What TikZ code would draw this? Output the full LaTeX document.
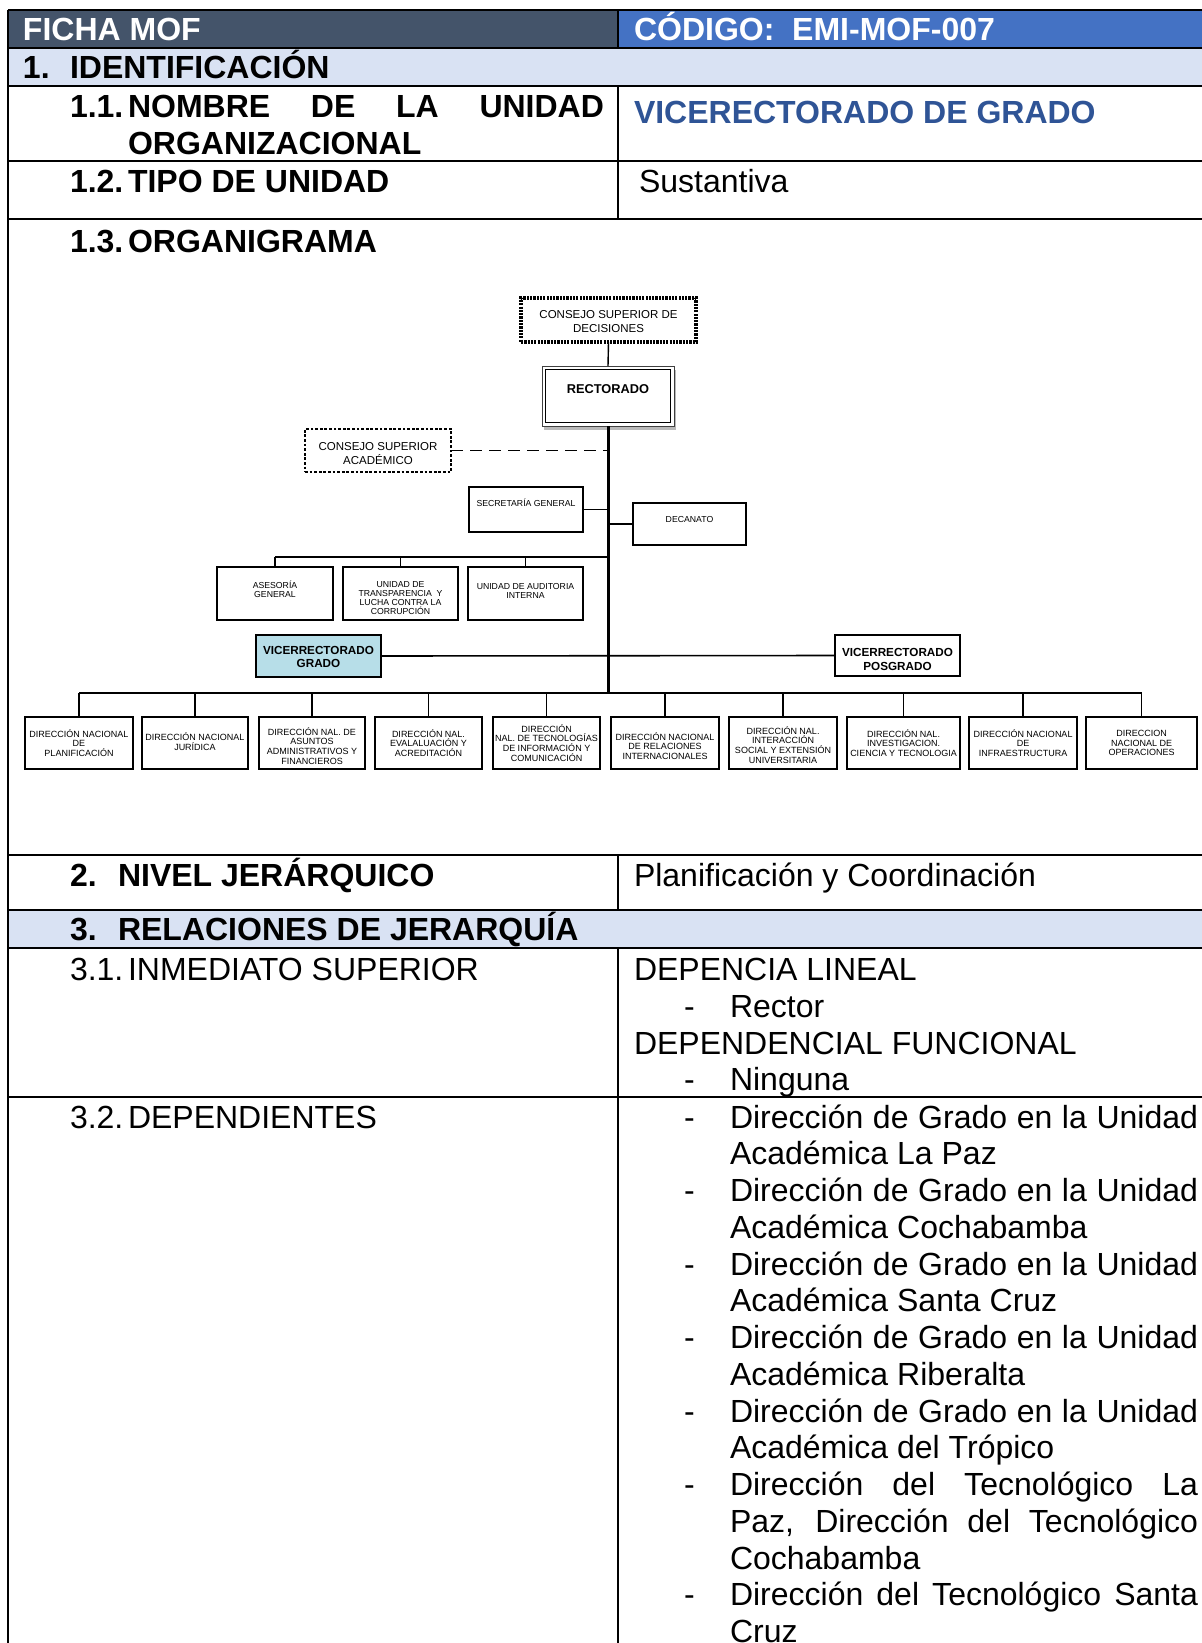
\documentclass[tikz,border=0pt]{standalone}
\usepackage{fontspec}
\setmainfont{Liberation Sans}
\usetikzlibrary{calc,shadows}
\definecolor{hdrdark}{HTML}{44546A}
\definecolor{hdrblue}{HTML}{4472C4}
\definecolor{bandblue}{HTML}{D9E2F3}
\definecolor{titleblue}{HTML}{2F5496}
\definecolor{vgfill}{HTML}{B7DEE8}
\tikzset{
  tline/.style={line width=1pt},
  txt/.style={inner sep=0pt, outer sep=0pt, anchor=base west},
  reg/.style={txt, font=\fontsize{16pt}{18.4pt}\selectfont},
  bold/.style={txt, font=\fontsize{16pt}{18.4pt}\selectfont\bfseries},
  hdr/.style={bold, text=white},
  obox/.style={draw, line width=0.75pt, fill=white, inner sep=0pt, outer sep=0pt},
  bbox/.style={obox, line width=1pt, minimum height=26pt},
  otxt/.style={inner sep=0pt, outer sep=0pt, align=center},
  csfont/.style={otxt, font=\fontsize{5.75pt}{6.7pt}\selectfont},
  smfont/.style={otxt, font=\fontsize{4.35pt}{4.6pt}\selectfont},
  btfont/.style={otxt, font=\fontsize{4.5pt}{4.9pt}\selectfont},
  vbfont/.style={otxt, font=\fontsize{5.85pt}{6.3pt}\selectfont\bfseries},
  conn/.style={line width=0.8pt},
}
\begin{document}
\begin{tikzpicture}[x=0.5pt,y=-0.5pt]
\useasboundingbox (0,0) rectangle (1202,1643);
\clip (0,0) rectangle (1202,1643);
% ---------- table fills ----------
\fill[hdrdark] (8.4,10.5) rectangle (618,48);
\fill[hdrblue] (618,10.5) rectangle (1202,48);
\fill[bandblue] (8.4,48) rectangle (1202,86);
\fill[bandblue] (8.4,910) rectangle (1202,948);
% ---------- table lines ----------
\foreach \yy in {10.5,48,86,161,219,855,910,948,1097}
  \draw[tline] (7.9,\yy) -- (1202,\yy);
\draw[tline] (8.4,10) -- (8.4,1643);
\draw[tline] (618,10.5) -- (618,48);
\draw[tline] (618,86) -- (618,219);
\draw[tline] (618,855) -- (618,910);
\draw[tline] (618,948) -- (618,1643);
% ---------- table texts ----------
\node[hdr] (hA) at (23,41) {FICHA MOF};
\node[hdr] (hB) at (634,41) {CÓDIGO:\ \ EMI-MOF-007};
\node[bold] (s1n) at (23,79) {1.};
\node[bold] (s1) at (70,79) {IDENTIFICACIÓN};
\node[bold] (s11n) at (70,118) {1.1.};
\node[bold] (s11a) at (128,118) {\makebox[238pt][s]{NOMBRE DE LA UNIDAD}};
\node[bold] (s11b) at (128,155) {ORGANIZACIONAL};
\node[bold, text=titleblue] (v11) at (634,124) {VICERECTORADO DE GRADO};
\node[bold] (s12n) at (70,192) {1.2.};
\node[bold] (s12) at (128,192) {TIPO DE UNIDAD};
\node[reg] (v12) at (639,192) {Sustantiva};
\node[bold] (s13n) at (70,252) {1.3.};
\node[bold] (s13) at (128,252) {ORGANIGRAMA};
\node[bold] (s2n) at (70,886) {2.};
\node[bold] (s2) at (118,886) {NIVEL JERÁRQUICO};
\node[reg] (v2) at (634,886) {Planificación y Coordinación};
\node[bold] (s3n) at (70,940) {3.};
\node[bold] (s3) at (118,940) {RELACIONES DE JERARQUÍA};
\node[reg] (s31n) at (70,980) {3.1.};
\node[reg] (s31) at (128,980) {INMEDIATO SUPERIOR};
\node[reg] (v31a) at (634,980) {DEPENCIA LINEAL};
\node[reg] (v31bd) at (684,1017) {-};
\node[reg] (v31b) at (730,1017) {Rector};
\node[reg] (v31c) at (634,1054) {DEPENDENCIAL FUNCIONAL};
\node[reg] (v31dd) at (684,1090) {-};
\node[reg] (v31d) at (730,1090) {Ninguna};
\node[reg] (s32n) at (70,1128) {3.2.};
\node[reg] (s32) at (128,1128) {DEPENDIENTES};
% list
\node[reg] (l0d) at (684,1128) {-};
\node[reg] (l0) at (730,1128) {\makebox[234pt][s]{Dirección de Grado en la Unidad}};
\node[reg] (l1) at (730,1164.75) {Académica La Paz};
\node[reg] (l2d) at (684,1201.5) {-};
\node[reg] (l2) at (730,1201.5) {\makebox[234pt][s]{Dirección de Grado en la Unidad}};
\node[reg] (l3) at (730,1238.25) {Académica Cochabamba};
\node[reg] (l4d) at (684,1275) {-};
\node[reg] (l4) at (730,1275) {\makebox[234pt][s]{Dirección de Grado en la Unidad}};
\node[reg] (l5) at (730,1311.75) {Académica Santa Cruz};
\node[reg] (l6d) at (684,1348.5) {-};
\node[reg] (l6) at (730,1348.5) {\makebox[234pt][s]{Dirección de Grado en la Unidad}};
\node[reg] (l7) at (730,1385.25) {Académica Riberalta};
\node[reg] (l8d) at (684,1422) {-};
\node[reg] (l8) at (730,1422) {\makebox[234pt][s]{Dirección de Grado en la Unidad}};
\node[reg] (l9) at (730,1458.75) {Académica del Trópico};
\node[reg] (l10d) at (684,1495.5) {-};
\node[reg] (l10) at (730,1495.5) {\makebox[234pt][s]{Dirección del Tecnológico La}};
\node[reg] (l11) at (730,1532.25) {\makebox[234pt][s]{Paz, Dirección del Tecnológico}};
\node[reg] (l12) at (730,1569) {Cochabamba};
\node[reg] (l13d) at (684,1605.75) {-};
\node[reg] (l13) at (730,1605.75) {\makebox[234pt][s]{Dirección del Tecnológico Santa}};
\node[reg] (l14) at (730,1642.5) {Cruz};
% ---------- organigram ----------
\coordinate (bus) at (608,693);
\coordinate (sbus) at (608,557);
\node[obox, line width=1.6pt, dash pattern=on 1.1pt off 0.55pt, minimum width=87.5pt, minimum height=22pt] (csd) at (608.5,320) {};
\node[csfont] (csdt) at (608.5,321.5) {CONSEJO SUPERIOR DE\\DECISIONES};
\node[obox, line width=0.5pt, draw=black!75, minimum width=66pt, minimum height=30pt,
  drop shadow={shadow xshift=1pt, shadow yshift=-2pt, fill=gray!55, opacity=1}] (rect) at (608,396) {};
\draw[line width=0.7pt] ($(rect.north west)+(3.5,3.5)$) rectangle ($(rect.south east)+(-3.5,-3.5)$);
\node[otxt, font=\fontsize{6.4pt}{7pt}\selectfont\bfseries] (rectt) at (608,389) {RECTORADO};
\node[obox, line width=1pt, dash pattern=on 1.4pt off 0.9pt, minimum width=73pt, minimum height=21.5pt] (csa) at (378,450.5) {};
\node[otxt, font=\fontsize{5.75pt}{7.4pt}\selectfont] (csat) at (378,453.5) {CONSEJO SUPERIOR\\ACADÉMICO};
\node[obox, minimum width=57pt, minimum height=22.5pt] (sec) at (526,509.5) {};
\node[smfont] (sect) at (526,503) {SECRETARÍA GENERAL};
\node[obox, minimum width=56.5pt, minimum height=21pt] (dec) at (689.5,524) {};
\node[smfont] (dect) at (689.5,519) {DECANATO};
\node[obox, minimum width=58pt, minimum height=26.5pt] (ase) at (275,593.5) {};
\node[smfont] (aset) at (275,589) {ASESORÍA\\GENERAL};
\node[obox, minimum width=57.5pt, minimum height=26.5pt] (tra) at (400.5,593.5) {};
\node[smfont] (trat) at (400.5,598) {UNIDAD DE\\TRANSPARENCIA\ \ Y\\LUCHA CONTRA LA\\CORRUPCIÓN};
\node[obox, minimum width=57.5pt, minimum height=26.5pt] (aud) at (525.5,593.5) {};
\node[smfont] (audt) at (525.5,591) {UNIDAD DE AUDITORIA\\INTERNA};
\node[obox, fill=vgfill, minimum width=62.5pt, minimum height=21pt] (vg) at (318.5,656) {};
\node[vbfont] (vgt) at (318.5,657) {VICERRECTORADO\\GRADO};
\node[obox, minimum width=62.5pt, minimum height=20.5pt] (vp) at (897.5,655.5) {};
\node[otxt, font=\fontsize{5.85pt}{7pt}\selectfont\bfseries] (vpt) at (897.5,659) {VICERRECTORADO\\POSGRADO};
% bottom boxes
\node[bbox, minimum width=54pt] (d1) at (79,743) {};
\node[bbox, minimum width=53pt] (d2) at (195,743) {};
\node[bbox, minimum width=53pt] (d3) at (312,743) {};
\node[bbox, minimum width=53.5pt] (d4) at (428.5,743) {};
\node[bbox, minimum width=53.5pt] (d5) at (546.5,743) {};
\node[bbox, minimum width=54pt] (d6) at (665,743) {};
\node[bbox, minimum width=54pt] (d7) at (783,743) {};
\node[bbox, minimum width=56.5pt] (d8) at (903.5,743) {};
\node[bbox, minimum width=54pt] (d9) at (1023,743) {};
\node[bbox, minimum width=55.5pt] (d10) at (1141.5,743) {};
\node[btfont] (d1t) at (79,743) {DIRECCIÓN NACIONAL\\DE\\PLANIFICACIÓN};
\node[btfont] (d2t) at (195,742) {DIRECCIÓN NACIONAL\\JURÍDICA};
\node[btfont] (d3t) at (312,746) {DIRECCIÓN NAL. DE\\ASUNTOS\\ADMINISTRATIVOS Y\\FINANCIEROS};
\node[btfont] (d4t) at (428.5,743) {DIRECCIÓN NAL.\\EVALALUACIÓN Y\\ACREDITACIÓN};
\node[btfont] (d5t) at (546.5,743) {DIRECCIÓN\\NAL. DE TECNOLOGÍAS\\DE INFORMACIÓN Y\\COMUNICACIÓN};
\node[btfont] (d6t) at (665,746) {DIRECCIÓN NACIONAL\\DE RELACIONES\\INTERNACIONALES};
\node[btfont] (d7t) at (783,745) {DIRECCIÓN NAL.\\INTERACCIÓN\\SOCIAL Y EXTENSIÓN\\UNIVERSITARIA};
\node[btfont] (d8t) at (903.5,743) {DIRECCIÓN NAL.\\INVESTIGACION.\\CIENCIA Y TECNOLOGIA};
\node[btfont] (d9t) at (1023,743) {DIRECCIÓN NACIONAL\\DE\\INFRAESTRUCTURA};
\node[btfont] (d10t) at (1141.5,743) {DIRECCION\\NACIONAL DE\\OPERACIONES};
% connectors
\draw[line width=0.7pt] (csd.south) -- (rect.north);
\draw[line width=1.5pt] (rect.south) -- (bus);
\draw[line width=0.7pt, dash pattern=on 6pt off 3.5pt] (csa.east) -- (csa.east -| bus);
\draw[conn] (sec.east) -- (sec.east -| bus);
\draw[conn] (dec.west) -- (dec.west -| bus);
\draw[conn] (ase.north |- sbus) -- (sbus);
\foreach \b in {ase,tra,aud} \draw[conn] (\b.north) -- (\b.north |- sbus);
\draw[conn] (vg.east) -- (vp.west);
\draw[line width=1.2pt] (d1.north |- bus) -- (d10.north |- bus);
\foreach \b in {d1,d2,d3,d4,d5,d6,d7,d8,d9,d10} \draw[conn] (\b.north) -- (\b.north |- bus);
\end{tikzpicture}
\end{document}
